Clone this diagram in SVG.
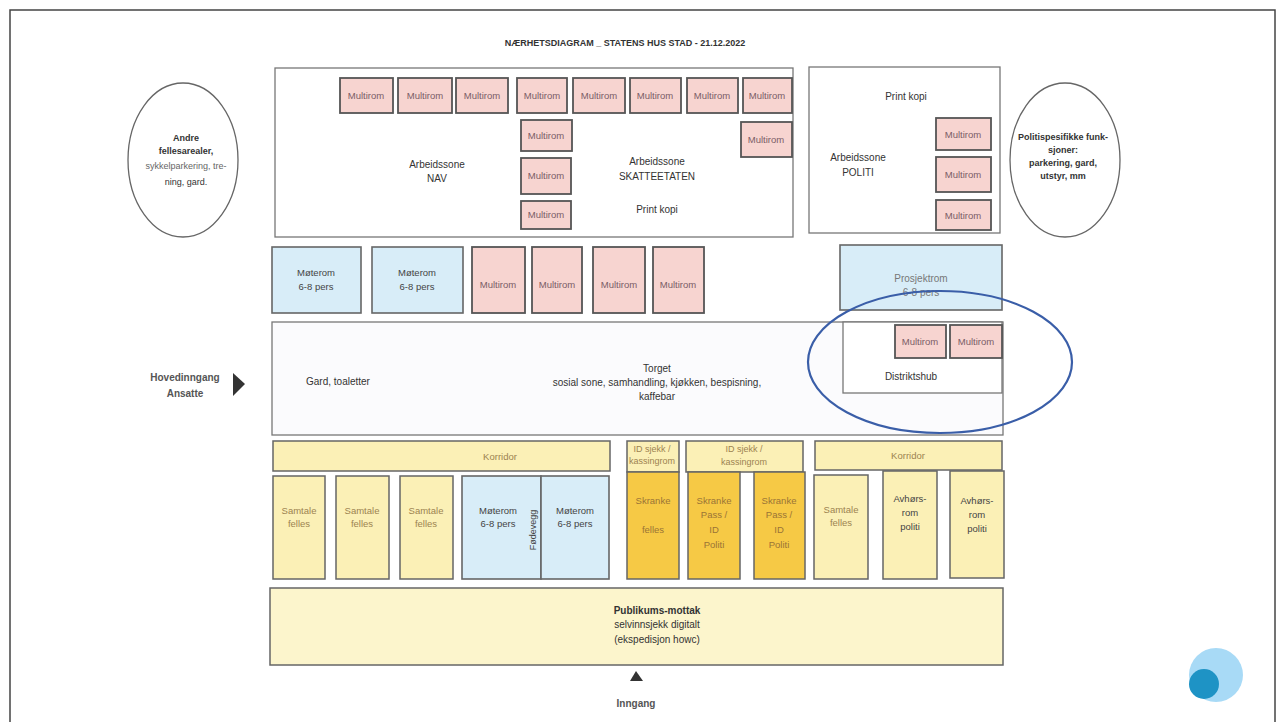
<svg xmlns="http://www.w3.org/2000/svg" width="1279" height="722" viewBox="0 0 1279 722">
<style>
text{font-family:"Liberation Sans",Arial,sans-serif;font-size:10px;text-anchor:middle;fill:#333}
.b{font-weight:bold}
.zone{fill:#fff;stroke:#777;stroke-width:1.3}
.mr{fill:#f7d4d0;stroke:#555;stroke-width:1.8}
.mrt{fill:#7a5c66;font-size:9.5px}
.blue{fill:#d8edf8;stroke:#666;stroke-width:1.6}
.ly{fill:#fbf0b6;stroke:#666;stroke-width:1.5}
.sy{fill:#f6c945;stroke:#666;stroke-width:1.5}
.yt{fill:#9c8350;font-size:9.5px}
.dt{fill:#444;font-size:9.5px}
.ell{fill:#fff;stroke:#666;stroke-width:1.3}
</style>
<rect x="0" y="0" width="1279" height="722" fill="#fff"/>
<rect id="frame" x="10" y="10" width="1265" height="730" fill="none" stroke="#444" stroke-width="1.5"/>
<text class="b" x="625" y="46" style="font-size:9px">NÆRHETSDIAGRAM _ STATENS HUS STAD - 21.12.2022</text>

<g id="andre">
<ellipse class="ell" cx="183" cy="160" rx="55" ry="77"/>
<text class="b" x="186" y="141" style="font-size:9px">Andre</text>
<text class="b" x="186" y="154" style="font-size:9px">fellesarealer,</text>
<text x="186" y="169" style="font-size:9px;fill:#666">sykkelparkering, tre-</text>
<text x="186" y="185" style="font-size:9px">ning, gard.</text>
</g>
<g id="politi-ellipse">
<ellipse class="ell" cx="1065" cy="160" rx="55" ry="77"/>
<text class="b" x="1063" y="140" style="font-size:9px">Politispesifikke funk-</text>
<text class="b" x="1063" y="153" style="font-size:9px">sjoner:</text>
<text class="b" x="1063" y="166" style="font-size:9px">parkering, gard,</text>
<text class="b" x="1063" y="179" style="font-size:9px">utstyr, mm</text>
</g>

<g id="nav-skatt">
<rect class="zone" x="275" y="68" width="518" height="169"/>
<text x="437" y="168">Arbeidssone</text>
<text x="437" y="182">NAV</text>
<text x="657" y="165">Arbeidssone</text>
<text x="657" y="180">SKATTEETATEN</text>
<text x="657" y="213">Print kopi</text>
</g>
<g id="multirom-top">
<rect class="mr" x="340" y="78" width="53" height="35"/><text class="mrt" x="366" y="99">Multirom</text>
<rect class="mr" x="398" y="78" width="54" height="35"/><text class="mrt" x="425" y="99">Multirom</text>
<rect class="mr" x="456" y="78" width="52" height="35"/><text class="mrt" x="482" y="99">Multirom</text>
<rect class="mr" x="517" y="78" width="50" height="35"/><text class="mrt" x="542" y="99">Multirom</text>
<rect class="mr" x="573" y="78" width="52" height="35"/><text class="mrt" x="599" y="99">Multirom</text>
<rect class="mr" x="630" y="78" width="51" height="35"/><text class="mrt" x="655" y="99">Multirom</text>
<rect class="mr" x="687" y="78" width="51" height="35"/><text class="mrt" x="712" y="99">Multirom</text>
<rect class="mr" x="743" y="78" width="49" height="35"/><text class="mrt" x="767" y="99">Multirom</text>
<rect class="mr" x="521" y="120" width="51" height="31"/><text class="mrt" x="546" y="139">Multirom</text>
<rect class="mr" x="521" y="158" width="50" height="36"/><text class="mrt" x="546" y="179">Multirom</text>
<rect class="mr" x="521" y="201" width="50" height="28"/><text class="mrt" x="546" y="218">Multirom</text>
<rect class="mr" x="741" y="122" width="51" height="35"/><text class="mrt" x="766" y="143">Multirom</text>
</g>

<g id="politi">
<rect class="zone" x="809" y="67" width="191" height="166"/>
<text x="906" y="100">Print kopi</text>
<text x="858" y="161">Arbeidssone</text>
<text x="858" y="176">POLITI</text>
<rect class="mr" x="936" y="118" width="55" height="32"/><text class="mrt" x="963" y="138">Multirom</text>
<rect class="mr" x="936" y="157" width="55" height="35"/><text class="mrt" x="963" y="178">Multirom</text>
<rect class="mr" x="936" y="200" width="55" height="30"/><text class="mrt" x="963" y="219">Multirom</text>
</g>

<g id="row2">
<rect class="blue" x="272" y="247" width="89" height="66"/>
<text class="dt" x="316" y="276">Møterom</text><text class="dt" x="316" y="290">6-8 pers</text>
<rect class="blue" x="372" y="247" width="91" height="66"/>
<text class="dt" x="417" y="276">Møterom</text><text class="dt" x="417" y="290">6-8 pers</text>
<rect class="mr" x="472" y="247" width="53" height="66"/><text class="mrt" x="498" y="288">Multirom</text>
<rect class="mr" x="532" y="247" width="50" height="66"/><text class="mrt" x="557" y="288">Multirom</text>
<rect class="mr" x="593" y="247" width="52" height="66"/><text class="mrt" x="619" y="288">Multirom</text>
<rect class="mr" x="653" y="247" width="51" height="66"/><text class="mrt" x="678" y="288">Multirom</text>
</g>
<g id="prosjektrom">
<rect class="blue" x="840" y="245" width="162" height="65"/>
<text x="921" y="282" style="fill:#777">Prosjektrom</text>
<text x="921" y="296" style="fill:#777">6-8 pers</text>
</g>

<g id="torget">
<rect class="zone" x="272" y="322" width="731" height="113" style="fill:#fbfbfd"/>
<text x="338" y="385">Gard, toaletter</text>
<text x="657" y="372">Torget</text>
<text x="657" y="386">sosial sone, samhandling, kjøkken, bespisning,</text>
<text x="657" y="400">kaffebar</text>
</g>
<g id="distriktshub">
<rect class="zone" x="843" y="322" width="159" height="71"/>
<rect class="mr" x="895" y="325" width="51" height="33"/><text class="mrt" x="920" y="345">Multirom</text>
<rect class="mr" x="950" y="325" width="52" height="33"/><text class="mrt" x="976" y="345">Multirom</text>
<text x="911" y="380">Distriktshub</text>
</g>

<g id="hovedinngang">
<text class="b" x="185" y="381" style="fill:#555">Hovedinngang</text>
<text class="b" x="185" y="397" style="fill:#555">Ansatte</text>
<polygon points="233,373 245,384 233,396" fill="#333"/>
</g>

<g id="korridor-row">
<rect class="ly" x="273" y="441" width="337" height="30"/><text class="yt" x="500" y="460">Korridor</text>
<rect class="ly" x="627" y="441" width="52" height="31"/>
<text class="yt" x="652" y="452" style="font-size:9px">ID sjekk /</text><text class="yt" x="652" y="464" style="font-size:9px">kassingrom</text>
<rect class="ly" x="686" y="441" width="117" height="31"/>
<text class="yt" x="744" y="452" style="font-size:9px">ID sjekk /</text><text class="yt" x="744" y="465" style="font-size:9px">kassingrom</text>
<rect class="ly" x="815" y="441" width="187" height="29"/><text class="yt" x="908" y="459">Korridor</text>
</g>

<g id="bottom-rooms">
<rect class="ly" x="273" y="476" width="52" height="103"/><text class="yt" x="299" y="514">Samtale</text><text class="yt" x="299" y="527">felles</text>
<rect class="ly" x="336" y="476" width="53" height="103"/><text class="yt" x="362" y="514">Samtale</text><text class="yt" x="362" y="527">felles</text>
<rect class="ly" x="400" y="476" width="53" height="103"/><text class="yt" x="426" y="514">Samtale</text><text class="yt" x="426" y="527">felles</text>
<rect class="blue" x="462" y="476" width="79" height="103"/><text class="dt" x="498" y="514">Møterom</text><text class="dt" x="498" y="527">6-8 pers</text>
<rect class="blue" x="541" y="476" width="68" height="103"/><text class="dt" x="575" y="514">Møterom</text><text class="dt" x="575" y="527">6-8 pers</text>
<text class="dt" x="536" y="530" transform="rotate(-90 536 530)" style="font-size:9px">Fødevegg</text>
<rect class="sy" x="627" y="472" width="52" height="107"/><text class="yt" x="653" y="504" style="fill:#9a7436">Skranke</text><text class="yt" x="653" y="533" style="fill:#9a7436">felles</text>
<rect class="sy" x="688" y="472" width="52" height="107"/><text class="yt" x="714" y="504" style="fill:#9a7436">Skranke</text><text class="yt" x="714" y="518" style="fill:#9a7436">Pass /</text><text class="yt" x="714" y="533" style="fill:#9a7436">ID</text><text class="yt" x="714" y="548" style="fill:#9a7436">Politi</text>
<rect class="sy" x="754" y="472" width="51" height="107"/><text class="yt" x="779" y="504" style="fill:#9a7436">Skranke</text><text class="yt" x="779" y="518" style="fill:#9a7436">Pass /</text><text class="yt" x="779" y="533" style="fill:#9a7436">ID</text><text class="yt" x="779" y="548" style="fill:#9a7436">Politi</text>
<rect class="ly" x="814" y="475" width="54" height="104"/><text class="yt" x="841" y="513">Samtale</text><text class="yt" x="841" y="526">felles</text>
<rect class="ly" x="883" y="471" width="54" height="108"/><text class="dt" x="910" y="502">Avhørs-</text><text class="dt" x="910" y="516">rom</text><text class="dt" x="910" y="530">politi</text>
<rect class="ly" x="950" y="471" width="54" height="107"/><text class="dt" x="977" y="504">Avhørs-</text><text class="dt" x="977" y="518">rom</text><text class="dt" x="977" y="532">politi</text>
</g>

<g id="publikum">
<rect class="ly" x="270" y="588" width="733" height="77" style="fill:#fcf5cc"/>
<text class="b" x="657" y="614" style="fill:#333">Publikums-mottak</text>
<text x="657" y="628">selvinnsjekk digitalt</text>
<text x="657" y="643">(ekspedisjon howc)</text>
</g>
<g id="inngang">
<polygon points="630,681 636,671 643,681" fill="#333"/>
<text class="b" x="636" y="707" style="fill:#555">Inngang</text>
</g>

<g id="connectors">
<ellipse cx="940" cy="362" rx="132" ry="71" fill="none" stroke="#3a5ea8" stroke-width="2.2"/>
</g>

<g id="logo">
<circle cx="1216" cy="675" r="27" fill="#a8daf6"/>
<circle cx="1204" cy="684" r="15" fill="#1e93c5"/>
</g>
</svg>
